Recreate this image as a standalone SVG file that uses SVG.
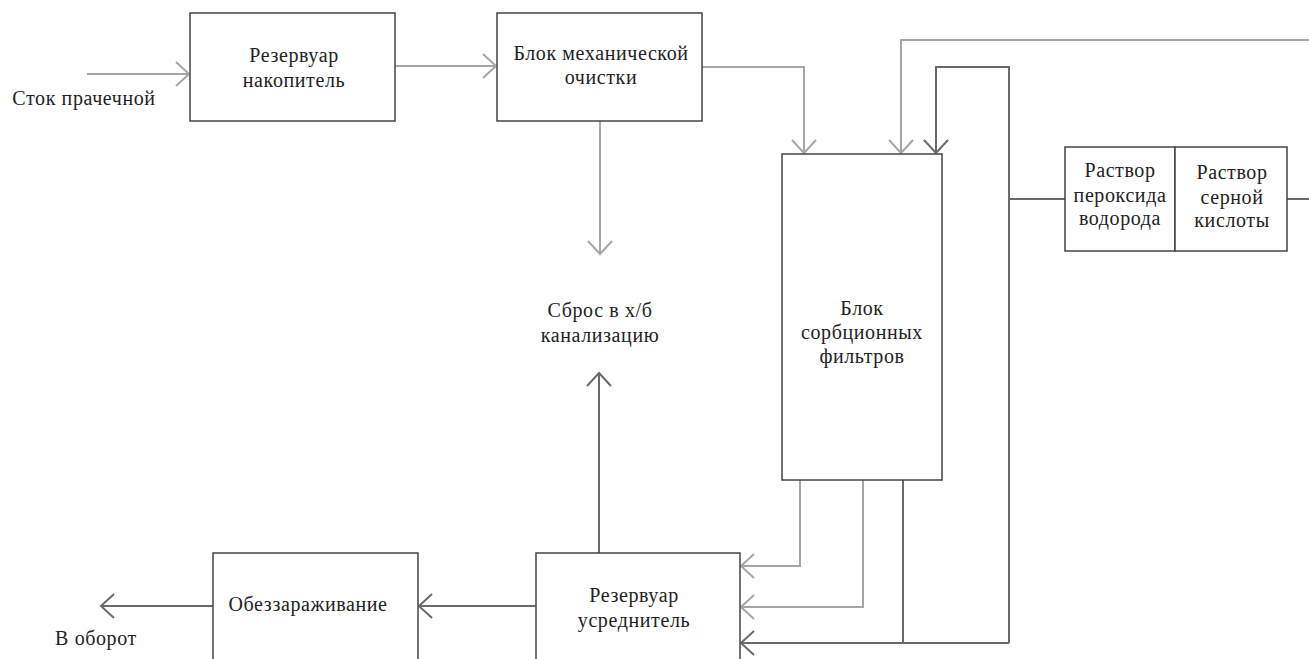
<svg xmlns="http://www.w3.org/2000/svg" width="1309" height="659" viewBox="0 0 1309 659">
<defs>
<style>
.box{fill:#fff;stroke:#444;stroke-width:1.5}
.lt{fill:none;stroke:#a6a6a6;stroke-width:2}
.dk{fill:none;stroke:#6a6a6a;stroke-width:2}
text{font-family:'Liberation Serif','DejaVu Serif',serif;font-size:20px;letter-spacing:0.6px;fill:#222;text-anchor:middle}
</style>
<marker id="al" markerUnits="userSpaceOnUse" markerWidth="30" markerHeight="30" viewBox="-15 -15 30 30" refX="0" refY="0" orient="auto"><polyline points="-13,-12 0,0 -13,12" fill="none" stroke="#a6a6a6" stroke-width="2"/></marker>
<marker id="ad" markerUnits="userSpaceOnUse" markerWidth="30" markerHeight="30" viewBox="-15 -15 30 30" refX="0" refY="0" orient="auto"><polyline points="-13,-12 0,0 -13,12" fill="none" stroke="#6a6a6a" stroke-width="2"/></marker>
</defs>
<rect width="1309" height="659" fill="#fff"/>
<g id="connectors">
<line class="lt" x1="87" y1="74" x2="189" y2="74" marker-end="url(#al)"/>
<line class="lt" x1="395" y1="66" x2="496" y2="66" marker-end="url(#al)"/>
<polyline class="lt" points="702,67 804,67 804,153" marker-end="url(#al)"/>
<line class="lt" x1="600" y1="121" x2="600" y2="254" marker-end="url(#al)"/>
<polyline class="lt" points="1309,40 901,40 901,153" marker-end="url(#al)"/>
<polyline class="dk" points="1065,199 1009,199 1009,643"/>
<polyline class="dk" points="1009,199 1009,67 936,67 936,153" marker-end="url(#ad)"/>
<line class="dk" x1="1287" y1="199" x2="1309" y2="199"/>
<polyline class="lt" points="800,480 800,566 741,566" marker-end="url(#al)"/>
<polyline class="lt" points="863,480 863,607 741,607" marker-end="url(#al)"/>
<line class="dk" x1="903" y1="480" x2="903" y2="643"/>
<line class="dk" x1="1009" y1="643" x2="741" y2="643" marker-end="url(#ad)"/>
<line class="dk" x1="599" y1="553" x2="599" y2="373" marker-end="url(#ad)"/>
<line class="dk" x1="536" y1="606" x2="419" y2="606" marker-end="url(#ad)"/>
<line class="dk" x1="213" y1="606" x2="101" y2="606" marker-end="url(#ad)"/>
</g>
<g id="n-in"><text x="84" y="105">Сток прачечной</text></g>
<g id="n-res1"><rect class="box" x="190" y="13" width="205" height="108"/><text x="294" y="62">Резервуар</text><text x="294" y="87">накопитель</text></g>
<g id="n-mech"><rect class="box" x="497" y="13" width="205" height="108"/><text x="601" y="60">Блок механической</text><text x="601" y="84">очистки</text></g>
<g id="n-sbros"><text x="600" y="317">Сброс в х/б</text><text x="600" y="342">канализацию</text></g>
<g id="n-sorb"><rect class="box" x="782" y="154" width="160" height="326"/><text x="862" y="315">Блок</text><text x="862" y="339">сорбционных</text><text x="862" y="363">фильтров</text></g>
<g id="n-chem"><rect class="box" x="1065" y="147" width="110" height="104"/><rect class="box" x="1175" y="147" width="112" height="104"/><text x="1120" y="177">Раствор</text><text x="1120" y="202">пероксида</text><text x="1120" y="225">водорода</text><text x="1232" y="179">Раствор</text><text x="1232" y="204">серной</text><text x="1232" y="227">кислоты</text></g>
<g id="n-res2"><rect class="box" x="536" y="553" width="204" height="120"/><text x="634" y="602">Резервуар</text><text x="634" y="627">усреднитель</text></g>
<g id="n-dis"><rect class="box" x="213" y="553" width="205" height="120"/><text x="308" y="611">Обеззараживание</text></g>
<g id="n-out"><text x="96" y="645">В оборот</text></g>
</svg>
